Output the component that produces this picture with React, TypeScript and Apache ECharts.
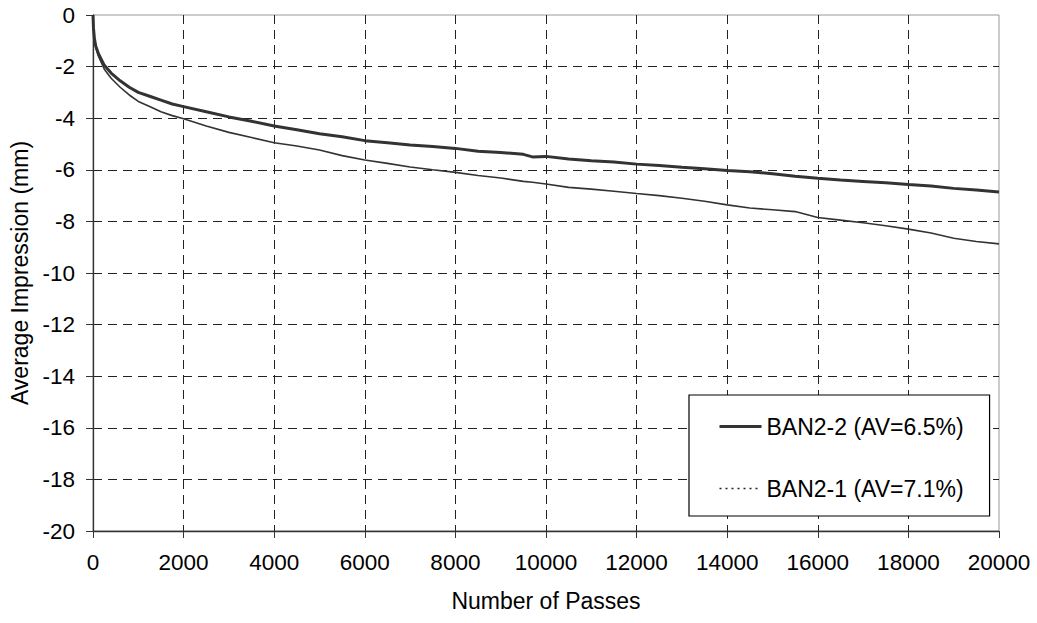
import React, { useEffect, useRef } from "react";
import * as echarts from "echarts";

const passes = [
  0, 10, 30, 60, 120, 250, 400, 600, 800, 1000, 1250, 1500, 1750, 2000, 2500, 3000, 3500,
  4000, 4500, 5000, 5500, 6000, 6500, 7000, 7500, 8000, 8500, 9000, 9500, 9700, 10000,
  10500, 11000, 11500, 12000, 12500, 13000, 13500, 14000, 14500, 15000, 15500, 16000,
  16500, 17000, 17500, 18000, 18500, 19000, 19500, 20000,
];

const ban22 = [
  0, -0.5, -0.9, -1.2, -1.5, -1.95, -2.25, -2.55, -2.8, -3.0, -3.15, -3.3, -3.45, -3.55,
  -3.75, -3.95, -4.12, -4.3, -4.45, -4.6, -4.72, -4.87, -4.95, -5.04, -5.1, -5.17, -5.28,
  -5.33, -5.4, -5.5, -5.48, -5.58, -5.65, -5.7, -5.78, -5.83, -5.9, -5.96, -6.03, -6.08,
  -6.15, -6.25, -6.33, -6.4, -6.45, -6.5, -6.57, -6.63, -6.72, -6.78, -6.86,
];

const ban21 = [
  0, -0.5, -0.9, -1.25, -1.6, -2.1, -2.45, -2.8, -3.1, -3.35, -3.55, -3.75, -3.9, -4.02,
  -4.3, -4.55, -4.75, -4.95, -5.08, -5.23, -5.45, -5.62, -5.75, -5.89, -6.0, -6.1, -6.22,
  -6.32, -6.45, -6.48, -6.55, -6.68, -6.75, -6.83, -6.92, -7.0, -7.1, -7.22, -7.36, -7.48,
  -7.55, -7.62, -7.85, -7.95, -8.05, -8.17, -8.3, -8.45, -8.65, -8.78, -8.87,
];

const seriesNames = ["BAN2-2 (AV=6.5%)", "BAN2-1 (AV=7.1%)"];
const xTitle = "Number of Passes";
const yTitle = "Average Impression (mm)";
const xRange = { min: 0, max: 20000, interval: 2000 };
const yRange = { min: -20, max: 0, interval: 2 };

export default function App() {
  const ref = useRef<HTMLDivElement>(null);

  useEffect(() => {
    const chart = echarts.init(ref.current!, null, { renderer: "svg" });
    const font = "'Liberation Sans', Arial, sans-serif";
    const gridLine = { show: true, showMaxLine: false, lineStyle: { type: [9, 6], color: "#222", width: 1 } };
    const hiddenSymbol = { color: "rgba(0,0,0,0)", borderColor: "rgba(0,0,0,0)", borderWidth: 0, opacity: 0 };
    chart.setOption({
      animation: false,
      backgroundColor: "#fff",
      textStyle: { fontFamily: font },
      grid: {
        left: 93,
        top: 15,
        right: 38,
        bottom: 92,
        show: true,
        borderColor: "#999",
        borderWidth: 1,
      },
      legend: {
        show: true,
        orient: "vertical",
        left: 689,
        top: 395,
        padding: [20, 26, 16, 29],
        itemGap: 39,
        itemWidth: 42,
        itemHeight: 22,
        borderColor: "#000",
        borderWidth: 1.2,
        backgroundColor: "#fff",
        textStyle: { fontSize: 23, color: "#000", fontFamily: font },
        data: [
          { name: seriesNames[0], itemStyle: hiddenSymbol, lineStyle: { type: "solid", width: 3, color: "#333" } },
          { name: seriesNames[1], itemStyle: hiddenSymbol, lineStyle: { type: [2, 4], width: 1.6, color: "#222" } },
        ],
      },
      xAxis: {
        type: "value",
        min: xRange.min,
        max: xRange.max,
        interval: xRange.interval,
        name: xTitle,
        nameLocation: "middle",
        nameGap: 58,
        nameTextStyle: { fontSize: 23, color: "#000", fontFamily: font },
        axisLine: { show: true, onZero: false, lineStyle: { color: "#333", width: 1.3 } },
        axisTick: { show: true, length: 7, lineStyle: { color: "#333" } },
        axisLabel: { fontSize: 22.5, color: "#000", margin: 20, fontFamily: font, formatter: (v: number) => String(v) },
        splitLine: gridLine,
      },
      yAxis: {
        type: "value",
        min: yRange.min,
        max: yRange.max,
        interval: yRange.interval,
        name: yTitle,
        nameLocation: "middle",
        nameGap: 60,
        nameRotate: 90,
        nameTextStyle: { fontSize: 23, color: "#000", fontFamily: font },
        axisLine: { show: true, lineStyle: { color: "#333", width: 1.3 } },
        axisTick: { show: true, length: 7, lineStyle: { color: "#333" } },
        axisLabel: { fontSize: 22.5, color: "#000", margin: 18, fontFamily: font, formatter: (v: number) => String(v) },
        splitLine: gridLine,
      },
      series: [
        {
          name: seriesNames[0],
          type: "line",
          data: passes.map((p, i) => [p, ban22[i]]),
          showSymbol: false,
          symbol: "none",
          lineStyle: { color: "#333", width: 3 },
          itemStyle: { color: "#333" },
          z: 3,
        },
        {
          name: seriesNames[1],
          type: "line",
          data: passes.map((p, i) => [p, ban21[i]]),
          showSymbol: false,
          symbol: "none",
          lineStyle: { color: "#333", width: 1.6 },
          itemStyle: { color: "#333" },
          z: 3,
        },
      ],
    });
    return () => chart.dispose();
  }, []);

  return (
    <div
      ref={ref}
      style={{ position: "fixed", left: 0, top: 0, width: 1037, height: 623, background: "#fff" }}
    />
  );
}
